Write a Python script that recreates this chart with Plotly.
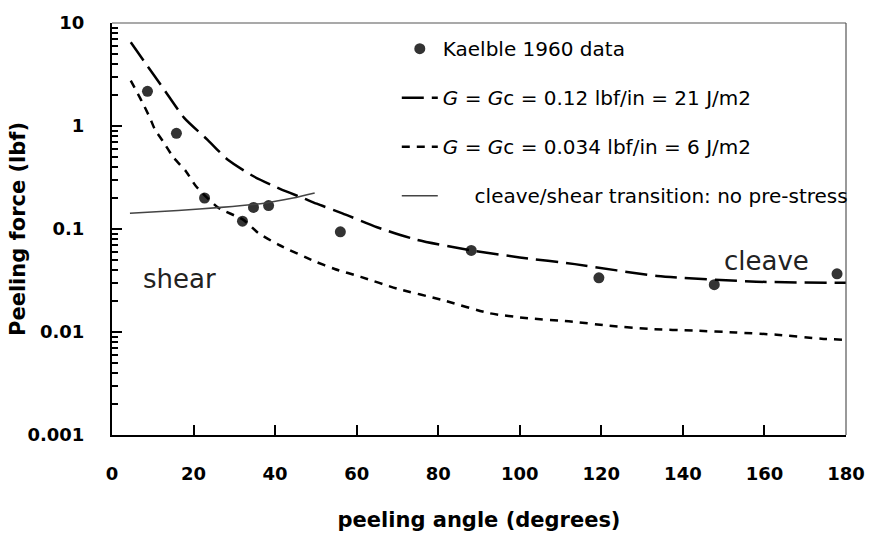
import plotly.graph_objects as go

# ---- data ----
data_angle = [8.7, 15.8, 22.7, 32.0, 34.7, 38.4, 56.0, 88.1, 119.4, 147.7, 177.8]
data_force = [2.17, 0.85, 0.20, 0.119, 0.162, 0.169, 0.094, 0.062, 0.0336, 0.0288, 0.0367]

gc012_angle = [4.6, 8.0, 12.9, 17.7, 23.5, 28.4, 34.7, 41.2, 46.8, 50.2, 56.5, 65, 74.7, 88, 100, 113.5, 133.7, 158, 180]
gc012_force = [6.5, 4.18, 2.22, 1.20, 0.73, 0.47, 0.325, 0.245, 0.20, 0.176, 0.142, 0.104, 0.0787, 0.062, 0.053, 0.0456, 0.035, 0.0308, 0.030]

gc0034_angle = [4.6, 7.3, 9.3, 10.5, 12.6, 15, 18.2, 20.6, 26, 32.3, 35.8, 40.8, 49.7, 54.6, 61, 69.9, 81.3, 92.6, 102, 112, 122, 132, 143, 153, 163, 174, 180]
gc0034_force = [2.76, 1.74, 1.20, 0.93, 0.70, 0.50, 0.36, 0.26, 0.162, 0.122, 0.092, 0.0705, 0.0486, 0.0409, 0.0343, 0.0264, 0.0203, 0.0152, 0.0136, 0.0127, 0.0115, 0.0107, 0.0103, 0.0099, 0.0094, 0.0086, 0.0084]

trans_angle = [4.4, 16.2, 26.7, 36.4, 44.4, 49.7]
trans_force = [0.142, 0.151, 0.162, 0.176, 0.20, 0.224]

y_tickvals = [0.001, 0.01, 0.1, 1, 10]
y_ticktext = ["0.001", "0.01", "0.1", "1", "10"]
x_tickvals = [0, 20, 40, 60, 80, 100, 120, 140, 160, 180]
x_ticktext = ["0", "20", "40", "60", "80", "100", "120", "140", "160", "180"]
y_minor_vals = [m * d for d in [0.001, 0.01, 0.1, 1] for m in range(2, 10)]

FONT = "Comic Sans MS, DejaVu Sans, sans-serif"

fig = go.Figure()
fig.add_trace(go.Scatter(x=data_angle, y=data_force, mode="markers",
                         name="Kaelble 1960 data", legendgroup="a",
                         marker=dict(size=11, color="#333333")))
fig.add_trace(go.Scatter(x=gc012_angle, y=gc012_force, mode="lines",
                         name="<i>G</i> = <i>G</i>c = 0.12 lbf/in = 21 J/m2", legendgroup="b",
                         line=dict(color="black", width=2.5, dash="22px,8px", shape="spline", smoothing=0.6)))
fig.add_trace(go.Scatter(x=gc0034_angle, y=gc0034_force, mode="lines",
                         name="<i>G</i> = <i>G</i>c = 0.034 lbf/in = 6 J/m2", legendgroup="c",
                         line=dict(color="black", width=2.5, dash="8px,7px", shape="spline", smoothing=0.6)))
fig.add_trace(go.Scatter(x=trans_angle, y=trans_force, mode="lines",
                         name="&nbsp;&nbsp;&nbsp;&nbsp;&nbsp;cleave/shear transition: no pre-stress", legendgroup="d",
                         line=dict(color="#444444", width=1.6, shape="spline", smoothing=0.6)))

fig.add_annotation(x=16.5, y=-1.483, text="shear", showarrow=False,
                   font=dict(family=FONT, size=26, color="#222"))
fig.add_annotation(x=160.5, y=-1.31, text="cleave", showarrow=False,
                   font=dict(family=FONT, size=26, color="#222"))
# y-axis title
fig.add_annotation(xref="paper", yref="paper", x=0, y=0.5, xshift=-94,
                   xanchor="center", yanchor="middle",
                   text="<b>Peeling force (lbf)</b>", textangle=-90, showarrow=False,
                   font=dict(family=FONT, size=21, color="black"))

# top and right frame lines (thin, grey)
fig.add_shape(type="line", xref="paper", yref="paper", x0=0, x1=1, y0=1, y1=1,
              line=dict(color="#555", width=1.2))
fig.add_shape(type="line", xref="paper", yref="paper", x0=1, x1=1, y0=0, y1=1,
              line=dict(color="#555", width=1.2))

fig.update_layout(
    width=877, height=543,
    margin=dict(l=112, r=23, t=13, b=108),
    paper_bgcolor="white", plot_bgcolor="white",
    font=dict(family=FONT, color="black"),
    showlegend=True,
    legend=dict(x=0.388, y=0.985, xanchor="left", yanchor="top",
                bgcolor="rgba(0,0,0,0)", font=dict(size=20, family=FONT),
                tracegroupgap=20, itemwidth=36),
    xaxis=dict(range=[0, 180], tickvals=x_tickvals,
               ticktext=["<b>" + t + "</b>" for t in x_ticktext],
               ticks="inside", ticklen=10, tickwidth=2, tickcolor="black",
               showline=True, linewidth=2, linecolor="black",
               showgrid=False, zeroline=False, ticklabelstandoff=21,
               tickfont=dict(size=18, family=FONT),
               title=dict(text="<b>peeling angle (degrees)</b>", standoff=30,
                          font=dict(size=21, family=FONT))),
    yaxis=dict(type="log", range=[-3, 1], tickvals=y_tickvals,
               ticktext=["<b>" + t + "</b>" for t in y_ticktext],
               ticks="inside", ticklen=10, tickwidth=2, tickcolor="black",
               showline=True, linewidth=2,
               linecolor="black", showgrid=False, zeroline=False,
               ticklabelstandoff=22,
               minor=dict(ticks="inside", ticklen=6, tickwidth=1.5, tickcolor="black",
                          tickvals=y_minor_vals, showgrid=False),
               tickfont=dict(size=18, family=FONT)),
)

fig.write_html("out.html")
